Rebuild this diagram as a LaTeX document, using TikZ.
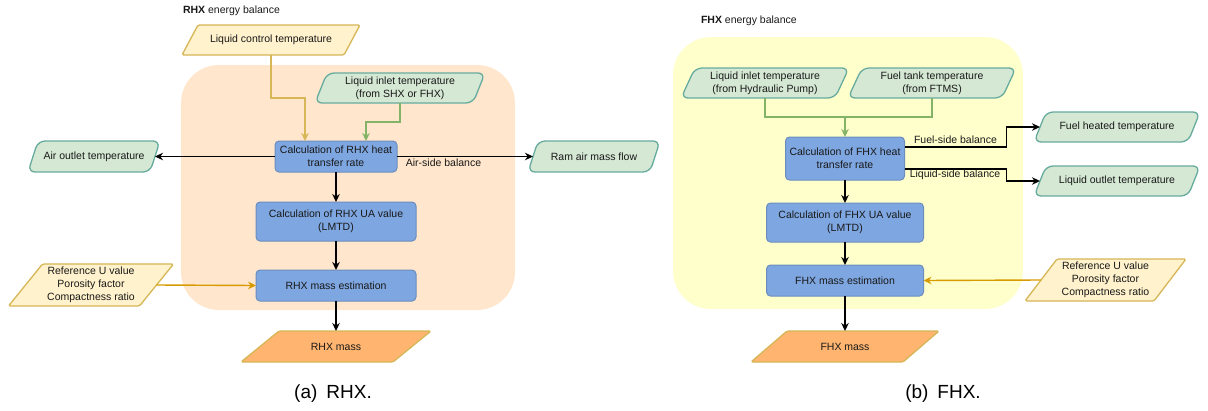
\documentclass[tikz,border=0pt]{standalone}
\usepackage{fontspec}
\setmainfont{Liberation Sans}
\usetikzlibrary{arrows.meta}

\definecolor{boxfill}{HTML}{7EA6E0}
\definecolor{boxline}{HTML}{6C8EBF}
\definecolor{grfill}{HTML}{D5E8D4}
\definecolor{grline}{HTML}{67AB9F}
\definecolor{grarrow}{HTML}{82B366}
\definecolor{yefill}{HTML}{FFF2CC}
\definecolor{yeline}{HTML}{D6B656}
\definecolor{orfill}{HTML}{FFB570}
\definecolor{orarrow}{HTML}{D79B00}
\definecolor{peach}{HTML}{FFE6CC}
\definecolor{lemon}{HTML}{FFFFCC}

\pgfdeclarelayer{bg}
\pgfdeclarelayer{mid}
\pgfsetlayers{bg,mid,main}

\tikzset{
  lbl/.style={font=\fontsize{10.5}{12.8}\selectfont, align=center, inner sep=0pt, outer sep=0pt, text=black!90},
  proc/.style={lbl, rectangle, rounded corners=4pt, fill=boxfill, draw=boxline, line width=1pt},
  slot/.style={lbl, rectangle},
  greenpara/.style={fill=grfill, draw=grline, line width=1.3pt, rounded corners=7pt},
  yellowpara/.style={fill=yefill, draw=yeline, line width=1.3pt, rounded corners=1.5pt},
  orangepara/.style={fill=orfill, draw=yeline, line width=1.3pt, rounded corners=1.5pt},
  flow/.style={line width=1.4pt, -{Stealth[length=8pt,width=7.5pt]}},
  caption/.style={font=\fontsize{19}{22}\selectfont, inner sep=0pt, anchor=base},
}

% slanted frame drawn behind a text node: style, node, half of the slant
\newcommand{\slanted}[3]{%
  \begin{pgfonlayer}{mid}
    \draw[#1] ([xshift=#3pt]#2.north west) -- ([xshift=#3pt]#2.north east)
      -- ([xshift=-#3pt]#2.south east) -- ([xshift=-#3pt]#2.south west) -- cycle;
  \end{pgfonlayer}}

\begin{document}
\begin{tikzpicture}[x=1pt,y=-1pt]
\useasboundingbox (0,0) rectangle (1208,410);

% ---------------- RHX ----------------
\begin{pgfonlayer}{bg}
  \fill[peach, rounded corners=38pt] (181,65) rectangle (515,310);
\end{pgfonlayer}
\node[lbl, anchor=west] (titleA) at (183,11) {\textbf{RHX} energy balance};

\node[slot, minimum width=162pt, minimum height=30pt] (ctrl) at (271,40) {Liquid control temperature};
\slanted{yellowpara}{ctrl}{8}

\node[slot, minimum width=158pt, minimum height=30pt] (inA) at (400,88) {Liquid inlet temperature\\(from SHX or FHX)};
\slanted{greenpara}{inA}{6}

\node[proc, minimum width=122pt, minimum height=31pt] (heatA) at (336,156.5) {Calculation of RHX heat\\transfer rate};

\node[slot, minimum width=122pt, minimum height=31pt] (airOut) at (94,156.5) {Air outlet temperature};
\slanted{greenpara}{airOut}{5}

\node[slot, minimum width=122pt, minimum height=31pt] (ramAir) at (594,156.5) {Ram air mass flow};
\slanted{greenpara}{ramAir}{5}

\node[proc, minimum width=160pt, minimum height=39pt] (uaA) at (336,221.5) {Calculation of RHX UA value\\(LMTD)};
\node[proc, minimum width=160pt, minimum height=31pt] (massEstA) at (336,285.5) {RHX mass estimation};

\node[slot, minimum width=131pt, minimum height=42pt] (refA) at (91,285) {Reference U value\\Porosity factor\\Compactness ratio};
\slanted{yellowpara}{refA}{17}

\node[slot, minimum width=152pt, minimum height=31pt] (massA) at (336,346.5) {RHX mass};
\slanted{orangepara}{massA}{19}

\draw[flow, color=yeline] (ctrl.south) -- ++(0,43) -| ([xshift=-31pt]heatA.north);
\draw[flow, color=grarrow] (inA.south) -- ++(0,19) -| ([xshift=30pt]heatA.north);
\draw[flow] (heatA.west) -- (airOut.east);
\draw[flow] (heatA.east) -- (ramAir.west);
\node[lbl] (airSide) at (443.5,163) {Air-side balance};
\draw[flow] (heatA.south) -- (uaA.north);
\draw[flow] (uaA.south) -- (massEstA.north);
\draw[flow, color=orarrow] (refA.east) -- (massEstA.west);
\draw[flow] (massEstA.south) -- (massA.north);

\node[caption] (capA) at (333,398) {(a)\hspace{9pt}RHX.};

% ---------------- FHX ----------------
\begin{pgfonlayer}{bg}
  \fill[lemon, rounded corners=38pt] (673,37) rectangle (1023,309);
\end{pgfonlayer}
\node[lbl, anchor=west] (titleB) at (701,21) {\textbf{FHX} energy balance};

\node[slot, minimum width=154pt, minimum height=30pt] (inB) at (765,83) {Liquid inlet temperature\\(from Hydraulic Pump)};
\slanted{greenpara}{inB}{7}
\node[slot, minimum width=154pt, minimum height=30pt] (tankB) at (932,83) {Fuel tank temperature\\(from FTMS)};
\slanted{greenpara}{tankB}{7}

\node[proc, minimum width=119pt, minimum height=43pt] (heatB) at (845,158.5) {Calculation of FHX heat\\transfer rate};

\coordinate (joinB) at (845,117);
\draw[line width=1.4pt, color=grarrow] (inB.south) |- (joinB) -| (tankB.south);
\draw[flow, color=grarrow] (joinB) -- (heatB.north);

\node[slot, minimum width=154pt, minimum height=30pt] (fuelOut) at (1117,127) {Fuel heated temperature};
\slanted{greenpara}{fuelOut}{6}
\node[slot, minimum width=154pt, minimum height=30pt] (liqOut) at (1117,181) {Liquid outlet temperature};
\slanted{greenpara}{liqOut}{6}

\draw[flow] ([yshift=11.5pt]heatB.east) -- ++(102,0) |- (fuelOut.west);
\draw[flow] ([yshift=-10.5pt]heatB.east) -- ++(102,0) |- (liqOut.west);
\node[lbl] (fuelSide) at (955.5,140) {Fuel-side balance};
\node[lbl] (liqSide) at (955,175) {Liquid-side balance};

\node[proc, minimum width=157pt, minimum height=39pt] (uaB) at (845,222.5) {Calculation of FHX UA value\\(LMTD)};
\node[proc, minimum width=157pt, minimum height=31pt] (massEstB) at (845,280.5) {FHX mass estimation};

\node[slot, minimum width=129pt, minimum height=42pt] (refB) at (1105.5,280) {Reference U value\\Porosity factor\\Compactness ratio};
\slanted{yellowpara}{refB}{16}

\node[slot, minimum width=152pt, minimum height=31pt] (massB) at (845,346.5) {FHX mass};
\slanted{orangepara}{massB}{18}

\draw[flow] (heatB.south) -- (uaB.north);
\draw[flow] (uaB.south) -- (massEstB.north);
\draw[flow, color=orarrow] (refB.west) -- (massEstB.east);
\draw[flow] (massEstB.south) -- (massB.north);

\node[caption] (capB) at (943,398) {(b)\hspace{9pt}FHX.};
\end{tikzpicture}
\end{document}
